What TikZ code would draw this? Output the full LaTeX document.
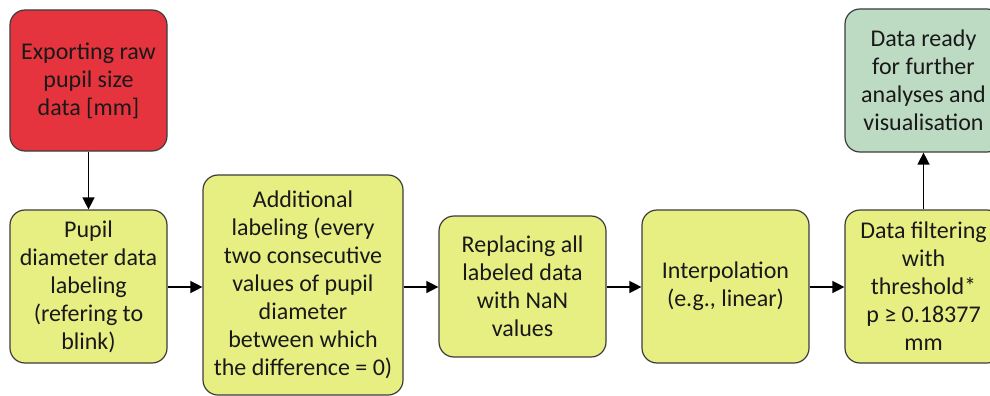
\documentclass[tikz,border=0pt]{standalone}
\usepackage{fontspec}
\setmainfont{Carlito}
\usetikzlibrary{arrows.meta}
\definecolor{boxred}{RGB}{229,52,62}
\definecolor{boxyellow}{RGB}{232,239,130}
\definecolor{boxgreen}{RGB}{189,218,195}
\definecolor{edge}{RGB}{60,60,60}
\tikzset{
  flowbox/.style={draw=edge, line width=1.2pt, rounded corners=15pt, inner sep=0pt,
    align=center, font=\fontsize{24}{28}\selectfont, text=black!90},
  flowarrow/.style={line width=1.4pt, draw=black, -{Triangle[length=12pt,width=12pt]}}
}
\begin{document}
\begin{tikzpicture}[x=1pt,y=-1pt]
\fill[white] (0,0) rectangle (990,396);
\useasboundingbox (0,0) rectangle (990,396);
\clip (0,0) rectangle (990,396);
\node[flowbox, fill=boxred, minimum width=157pt, minimum height=141pt] (raw) at (88.5,80.5)
  {Exporting raw\\pupil size\\data [mm]};
\node[flowbox, fill=boxyellow, minimum width=157pt, minimum height=153pt] (pupil) at (88.5,286.5)
  {Pupil\\diameter data\\labeling\\(refering to\\blink)};
\node[flowbox, fill=boxyellow, minimum width=200pt, minimum height=220pt] (add) at (303,285)
  {Additional\\labeling (every\\two consecutive\\values of pupil\\diameter\\between which\\the difference = 0)};
\node[flowbox, fill=boxyellow, minimum width=167pt, minimum height=141pt] (repl) at (522.5,286.5)
  {Replacing all\\labeled data\\with NaN\\values};
\node[flowbox, fill=boxyellow, minimum width=167pt, minimum height=153pt] (interp) at (725.5,286.5)
  {Interpolation\\(e.g., linear)};
\node[flowbox, fill=boxyellow, minimum width=157pt, minimum height=153pt] (filt) at (923.5,286.5)
  {Data filtering\\with\\threshold*\\p ≥ 0.18377\\mm};
\node[flowbox, fill=boxgreen, minimum width=157pt, minimum height=143pt] (ready) at (923.5,80.5)
  {Data ready\\for further\\analyses and\\visualisation};
\draw[flowarrow] (raw) -- (pupil);
\draw[flowarrow] (pupil.east |- 0,287) -- (add.west |- 0,287);
\draw[flowarrow] (add.east |- 0,287) -- (repl.west |- 0,287);
\draw[flowarrow] (repl.east |- 0,287) -- (interp.west |- 0,287);
\draw[flowarrow] (interp.east |- 0,287) -- (filt.west |- 0,287);
\draw[flowarrow] (filt) -- (ready);
\end{tikzpicture}
\end{document}
